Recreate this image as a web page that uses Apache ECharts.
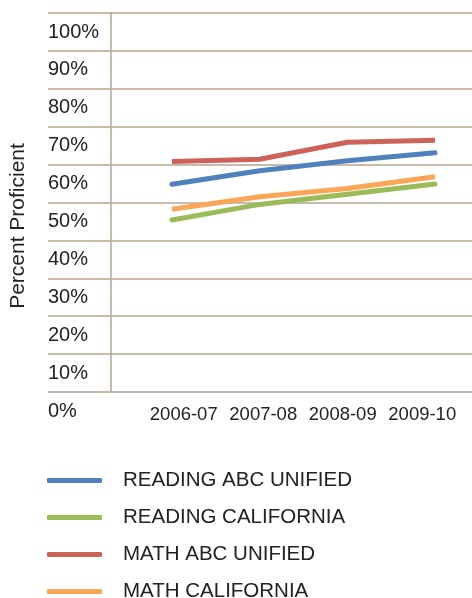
<!DOCTYPE html>
<html>
<head>
<meta charset="utf-8">
<script src="https://cdn.jsdelivr.net/npm/echarts@6/dist/echarts.min.js"></script>
<style>
html,body{margin:0;padding:0;background:#fff;}
#chart{width:472px;height:598px;}
</style>
</head>
<body>
<div id="chart"></div>
<script>
var years = ['2006-07', '2007-08', '2008-09', '2009-10'];
var readingAbc = [54.8, 58.4, 61.0, 63.1];
var readingCa = [45.4, 49.5, 52.2, 54.9];
var mathAbc = [60.8, 61.4, 65.9, 66.4];
var mathCa = [48.2, 51.5, 53.7, 56.8];

var font = '"Liberation Sans", Arial, sans-serif';
var gridColor = '#b4a690';

var chart = echarts.init(document.getElementById('chart'));

function lineSeries(name, data, color, cap) {
    return {
        name: name,
        type: 'line',
        xAxisIndex: 2,
        yAxisIndex: 2,
        data: data,
        symbol: 'none',
        color: color,
        lineStyle: { width: 5, color: color, cap: cap }
    };
}

var option = {
    animation: false,
    textStyle: { fontFamily: font },
    grid: [
        { left: 48, right: 0, top: 13, bottom: 206 },   // gridlines + tick labels
        { left: 111, right: 0, top: 13, bottom: 206 },  // vertical axis line
        { left: 172, right: 37, top: 13, bottom: 206 }, // the lines
        { left: 144, right: 10, top: 13, bottom: 206 }, // category labels
        { left: 48, right: 0, top: 60, bottom: 206 }    // axis title
    ],
    xAxis: [
        { gridIndex: 0, type: 'value', min: 0, max: 1, show: false },
        { gridIndex: 1, type: 'value', min: 0, max: 1, show: false },
        { gridIndex: 2, type: 'category', data: years, boundaryGap: false, show: false },
        {
            gridIndex: 3, type: 'category', data: years, boundaryGap: true,
            axisLine: { show: false }, axisTick: { show: false },
            axisLabel: { interval: 0, margin: 13, fontSize: 18.5, color: '#222' }
        },
        { gridIndex: 4, type: 'value', min: 0, max: 1, show: false }
    ],
    yAxis: [
        {
            gridIndex: 0, type: 'value', min: 0, max: 100, interval: 10,
            axisLine: { show: false }, axisTick: { show: false },
            splitLine: { lineStyle: { color: gridColor, width: 1.5 } },
            axisLabel: {
                inside: true, margin: 0, align: 'left', verticalAlign: 'top',
                padding: [9, 0, 0, 0], fontSize: 20, color: '#222',
                formatter: '{value}%'
            }
        },
        {
            gridIndex: 1, type: 'value', min: 0, max: 100,
            axisLine: { show: true, lineStyle: { color: gridColor, width: 1.5 } },
            axisTick: { show: false }, axisLabel: { show: false }, splitLine: { show: false }
        },
        { gridIndex: 2, type: 'value', min: 0, max: 100, show: false },
        { gridIndex: 3, type: 'value', min: 0, max: 100, show: false },
        {
            gridIndex: 4, type: 'value', min: 0, max: 100,
            axisLine: { show: false }, axisTick: { show: false },
            axisLabel: { show: false }, splitLine: { show: false },
            name: 'Percent Proficient',
            nameLocation: 'middle',
            nameGap: 19,
            nameRotate: 90,
            nameTextStyle: { fontSize: 21, color: '#222' }
        }
    ],
    legend: {
        orient: 'vertical',
        left: 47,
        top: 470,
        height: 200,
        padding: 0,
        icon: 'roundRect',
        itemWidth: 55,
        itemHeight: 5,
        itemGap: 16,
        textStyle: { fontSize: 20.5, color: '#222', padding: [0, 0, 0, 16] },
        data: ['READING ABC UNIFIED', 'READING CALIFORNIA', 'MATH ABC UNIFIED', 'MATH CALIFORNIA']
    },
    series: [
        lineSeries('READING ABC UNIFIED', readingAbc, '#4f81bd', 'round'),
        lineSeries('READING CALIFORNIA', readingCa, '#9bbb59', 'round'),
        lineSeries('MATH ABC UNIFIED', mathAbc, '#cd625a', 'butt'),
        lineSeries('MATH CALIFORNIA', mathCa, '#fba556', 'butt')
    ]
};

chart.setOption(option);
</script>
</body>
</html>
